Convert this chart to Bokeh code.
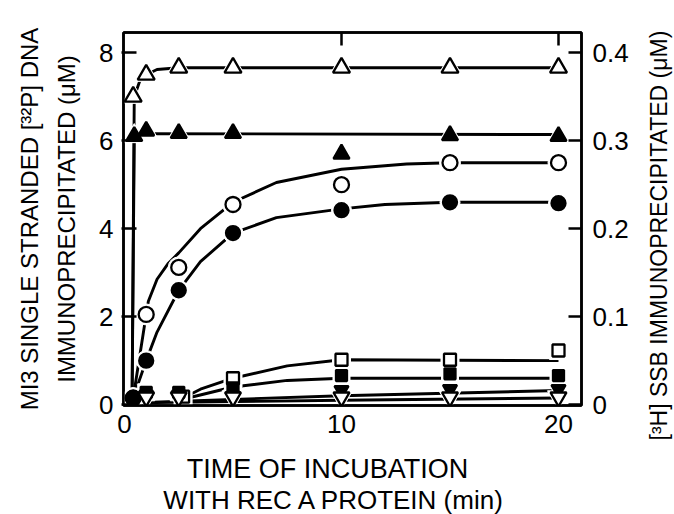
from bokeh.plotting import figure
from bokeh.models import Range1d, LinearAxis, FixedTicker, Title, Label
from bokeh.layouts import row, column
from bokeh.embed import file_html
from bokeh.resources import INLINE

# ---------------- data ----------------
# open triangles
ot_t = [0.4, 1, 2.5, 5, 10, 15, 20]
ot_y = [7.0, 7.5, 7.66, 7.66, 7.66, 7.66, 7.66]
ot_curve_t = [0.35, 0.45, 0.7, 1.0, 1.5, 2.5, 20]
ot_curve_y = [0.15, 7.0, 7.35, 7.5, 7.62, 7.66, 7.66]
# filled triangles
ft_t = [0.45, 1, 2.5, 5, 10, 15, 20]
ft_y = [6.1, 6.22, 6.17, 6.17, 5.7, 6.12, 6.1]
ft_curve_t = [0.35, 0.45, 1.0, 20]
ft_curve_y = [0.15, 6.1, 6.16, 6.14]
# open circles
oc_t = [0.4, 1, 2.5, 5, 10, 15, 20]
oc_y = [0.15, 2.05, 3.12, 4.55, 5.0, 5.5, 5.5]
oc_curve_t = [0.4, 1.0, 1.1, 1.5, 2.0, 2.5, 3.5, 5.0, 7.0, 10.0, 13.0, 15.0, 20.0]
oc_curve_y = [0.15, 2.05, 2.35, 2.85, 3.2, 3.45, 4.0, 4.6, 5.05, 5.35, 5.47, 5.5, 5.5]
# filled circles
fc_t = [0.4, 1, 2.5, 5, 10, 15, 20]
fc_y = [0.15, 1.0, 2.6, 3.9, 4.42, 4.6, 4.58]
fc_curve_t = [0.4, 1.0, 1.5, 2.5, 3.5, 5.0, 7.0, 10.0, 12.0, 15.0, 20.0]
fc_curve_y = [0.15, 1.0, 1.65, 2.6, 3.25, 3.9, 4.25, 4.45, 4.55, 4.6, 4.6]
# open squares
os_t = [2.7, 5, 10, 15, 20]
os_y = [0.18, 0.6, 1.02, 1.02, 1.23]
os_curve_t = [2.5, 3.5, 5, 7.5, 10, 20]
os_curve_y = [0.1, 0.35, 0.6, 0.88, 1.02, 1.0]
# filled squares
fs_t = [1, 2.5, 5, 10, 15, 20]
fs_y = [0.28, 0.28, 0.38, 0.66, 0.7, 0.66]
fs_curve_t = [2.5, 5, 7.5, 10, 20]
fs_curve_y = [0.1, 0.4, 0.55, 0.6, 0.6]
# filled inverted triangles
fit_t = [1, 2.5, 5, 10, 15, 20]
fit_y = [0.22, 0.22, 0.2, 0.33, 0.35, 0.35]
fit_curve_t = [1, 5, 10, 20]
fit_curve_y = [0.05, 0.12, 0.2, 0.32]
# open inverted triangles
oit_t = [1, 2.5, 5, 10, 15, 20]
oit_y = [0.17, 0.17, 0.17, 0.17, 0.17, 0.17]
oit_curve_t = [0.5, 10, 20]
oit_curve_y = [0.04, 0.1, 0.15]

x_ticks = [0, 10, 20]
y_ticks = [0, 2, 4, 6, 8]
y2_ticks = [0, 0.1, 0.2, 0.3, 0.4]
y2_labels = {0: "0", 0.1: "0.1", 0.2: "0.2", 0.3: "0.3", 0.4: "0.4"}

FONT = "Liberation Sans"

W, H = 674, 514
W2 = 42   # narrow strip on the right carrying the right-hand title
H3 = 66   # strip below carrying the x-axis title
FL, FR, FT, FB = 123, 581, 32, 405   # frame edges in page pixels

p = figure(width=W - W2, height=H - H3, output_backend="svg", toolbar_location=None,
           x_range=Range1d(-0.046, 21.06), y_range=Range1d(-0.02, 8.46),
           min_border_left=FL, min_border_right=W - W2 - FR, min_border_top=FT,
           min_border_bottom=H - H3 - FB, x_axis_location=None, y_axis_location=None)
p.grid.visible = False
p.outline_line_color = "black"
p.outline_line_width = 2.5
p.background_fill_color = "white"
p.border_fill_color = "white"

p.extra_y_ranges = {"ssb": Range1d(-0.02 / 20, 8.46 / 20)}


def style_axis(ax, ticks, tin, tout):
    ax.ticker = FixedTicker(ticks=ticks)
    ax.minor_tick_line_color = None
    ax.major_tick_in = tin
    ax.major_tick_out = tout
    ax.major_tick_line_width = 2.5
    ax.axis_line_width = 2.5
    ax.major_label_text_font = FONT
    ax.major_label_text_font_size = "26px"
    ax.major_label_text_color = "black"
    ax.axis_label_text_font = FONT
    ax.axis_label_text_font_style = "normal"
    ax.axis_label_text_color = "black"


def title(text, size, standoff, **kw):
    return Title(text=text, text_font=FONT, text_font_size=size, text_font_style="normal",
                 text_color="black", standoff=standoff, **kw)


left = LinearAxis(axis_label="IMMUNOPRECIPITATED (μM)")
style_axis(left, y_ticks, 13, 2)
left.major_label_standoff = 8
left.axis_label_standoff = 16
left.axis_label_text_font_size = "24px"
p.add_layout(left, "left")
p.add_layout(title("MI3 SINGLE STRANDED [³²P] DNA", "24px", 16, align="center"), "left")

right = LinearAxis(y_range_name="ssb")
style_axis(right, y2_ticks, 13, 0)
right.major_label_overrides = y2_labels
right.major_label_standoff = 11
p.add_layout(right, "right")

bottom = LinearAxis()
style_axis(bottom, x_ticks, 0, 0)
bottom.major_label_standoff = 9
p.add_layout(bottom, "below")

top = LinearAxis()
style_axis(top, [10, 20], 13, 0)
top.major_label_text_color = None
p.add_layout(top, "above")

LW = 2.9
for ct, cy in [(ot_curve_t, ot_curve_y), (ft_curve_t, ft_curve_y), (oc_curve_t, oc_curve_y),
               (fc_curve_t, fc_curve_y), (os_curve_t, os_curve_y), (fs_curve_t, fs_curve_y),
               (fit_curve_t, fit_curve_y), (oit_curve_t, oit_curve_y)]:
    p.line(ct, cy, line_color="black", line_width=LW)

series = [
    (ot_t, ot_y, "triangle", 17, "white"),
    (ft_t, ft_y, "triangle", 16, "black"),
    (oc_t, oc_y, "circle", 15, "white"),
    (fc_t, fc_y, "circle", 14, "black"),
    (os_t, os_y, "square", 12, "white"),
    (fs_t, fs_y, "square", 11, "black"),
    (fit_t, fit_y, "inverted_triangle", 14, "black"),
    (oit_t, oit_y, "inverted_triangle", 16, "white"),
]
# white halos (gaps in the lines around markers)
for t, y, m, s, f in series:
    p.scatter(t, y, marker=m, size=s + 6, fill_color="white", line_color="white", line_width=1)
for t, y, m, s, f in series:
    p.scatter(t, y, marker=m, size=s, fill_color=f, line_color="black", line_width=2.3)

# right-hand title strip: its title sits in the strip's left side panel (reads upward)
p2 = figure(width=W2, height=H - H3, output_backend="svg", toolbar_location=None,
            x_range=Range1d(0, 1), y_range=Range1d(0, 1), min_border=0,
            min_border_left=W2 - 2, x_axis_location=None, y_axis_location=None)
p2.grid.visible = False
p2.outline_line_color = None
p2.border_fill_color = "white"
p2.add_layout(title("[³H] SSB IMMUNOPRECIPITATED (μM)", "23px", 0, align="left", offset=-35,
                    vertical_align="middle"), "left")

# strip below carrying the two-line x-axis title (ranges in page pixels)
p3 = figure(width=W, height=H3, output_backend="svg", toolbar_location=None,
            x_range=Range1d(FL, FR), y_range=Range1d(0, H3), min_border=0,
            min_border_left=FL, min_border_right=W - FR, x_axis_location=None, y_axis_location=None)
p3.grid.visible = False
p3.outline_line_color = None
p3.border_fill_color = "white"
p3.add_layout(Label(x=327, y=H - 468, text="TIME OF INCUBATION", text_font=FONT,
                    text_font_size="27px", text_align="center", text_baseline="middle",
                    text_color="black"))
p3.add_layout(Label(x=334, y=H - 499, text="WITH REC A PROTEIN (min)", text_font=FONT,
                    text_font_size="26px", text_align="center", text_baseline="middle",
                    text_color="black"))

layout = column(row(p, p2), p3)
open("out.html", "w").write(file_html(layout, INLINE))
